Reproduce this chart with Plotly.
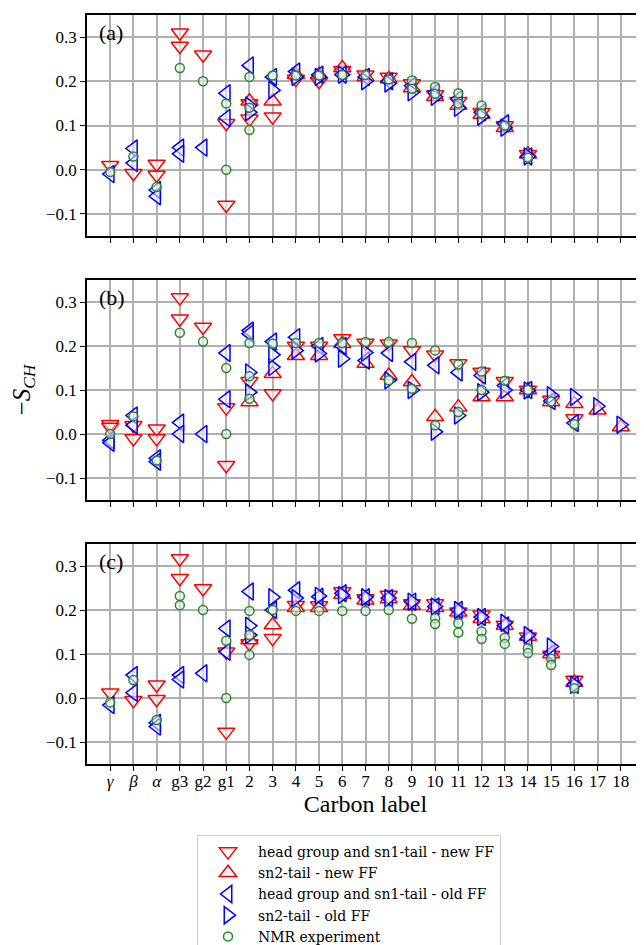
import plotly.graph_objects as go

# ---------------- data ----------------
CATS = ["γ", "β", "α", "g3", "g2", "g1"] + [str(i) for i in range(2, 19)]
TICK_TEXT = ["<i>γ</i>", "<i>β</i>", "<i>α</i>", "g3", "g2", "g1"] + [str(i) for i in range(2, 19)]
Y_TICKS = [-0.1, 0.0, 0.1, 0.2, 0.3]
Y_TICK_TEXT = ["−0.1", "0.0", "0.1", "0.2", "0.3"]

SERIES_NAMES = [
    "head group and sn1-tail - new FF",
    "sn2-tail - new FF",
    "head group and sn1-tail - old FF",
    "sn2-tail - old FF",
    "NMR experiment",
]

# Panel (a)
a_new_head_x = ["γ", "β", "α", "α", "g3", "g3", "g2", "g1", "g1", "2", "2", "3", "4", "5", "6", "7", "8", "9", "10", "11", "12", "13", "14"]
a_new_head_y = [0.01, -0.008, 0.013, -0.012, 0.31, 0.28, 0.26, 0.105, -0.08, 0.15, 0.115, 0.12, 0.205, 0.2, 0.225, 0.215, 0.21, 0.195, 0.17, 0.155, 0.13, 0.1, 0.035]
a_new_sn2_x = ["2", "3", "4", "5", "6", "7", "8", "9", "10", "11", "12", "13", "14"]
a_new_sn2_y = [0.155, 0.155, 0.215, 0.215, 0.23, 0.21, 0.205, 0.185, 0.165, 0.145, 0.125, 0.095, 0.035]
a_old_head_x = ["γ", "β", "β", "α", "α", "g3", "g3", "g2", "g1", "g1", "2", "3", "4", "5", "6", "7", "8", "9", "10", "11", "12", "13", "14"]
a_old_head_y = [-0.01, 0.048, 0.015, -0.046, -0.06, 0.05, 0.036, 0.05, 0.173, 0.117, 0.236, 0.21, 0.222, 0.215, 0.215, 0.21, 0.2, 0.19, 0.175, 0.16, 0.13, 0.105, 0.03]
a_old_sn2_x = ["2", "2", "3", "4", "5", "6", "7", "8", "9", "10", "11", "12", "13", "14"]
a_old_sn2_y = [0.145, 0.13, 0.18, 0.21, 0.21, 0.215, 0.2, 0.195, 0.175, 0.165, 0.14, 0.12, 0.095, 0.03]
a_nmr_x = ["γ", "β", "α", "g3", "g2", "g1", "g1", "2", "2", "2", "3", "4", "5", "6", "7", "8", "9", "9", "10", "10", "11", "11", "12", "12", "13", "14"]
a_nmr_y = [-0.005, 0.03, -0.039, 0.23, 0.2, 0.15, 0.0, 0.21, 0.14, 0.09, 0.213, 0.213, 0.213, 0.214, 0.214, 0.204, 0.202, 0.183, 0.187, 0.172, 0.173, 0.15, 0.145, 0.127, 0.1, 0.027]

# Panel (b)
b_new_head_x = ["γ", "γ", "β", "β", "α", "α", "g3", "g3", "g2", "g1", "g1", "2", "3", "4", "5", "6", "7", "8", "9", "10", "11", "12", "13", "14", "15", "16"]
b_new_head_y = [0.022, 0.016, -0.01, 0.02, 0.012, -0.01, 0.31, 0.262, 0.243, 0.06, -0.071, 0.12, 0.092, 0.2, 0.2, 0.217, 0.207, 0.205, 0.19, 0.18, 0.16, 0.141, 0.12, 0.1, 0.077, 0.035]
b_new_sn2_x = ["2", "3", "4", "5", "6", "7", "8", "9", "10", "11", "12", "13", "14", "15", "16", "17", "18"]
b_new_sn2_y = [0.073, 0.137, 0.178, 0.178, 0.205, 0.16, 0.133, 0.118, 0.039, 0.061, 0.084, 0.084, 0.1, 0.073, 0.069, 0.054, 0.016]
b_old_head_x = ["γ", "γ", "β", "β", "α", "α", "g3", "g3", "g2", "g1", "g1", "2", "2", "3", "4", "5", "6", "7", "8", "9", "10", "11", "12", "13", "14", "15", "16"]
b_old_head_y = [-0.014, -0.02, 0.042, 0.02, -0.055, -0.063, 0.026, 0.0, 0.0, 0.184, 0.079, 0.235, 0.228, 0.21, 0.22, 0.2, 0.2, 0.167, 0.184, 0.164, 0.156, 0.14, 0.133, 0.11, 0.1, 0.075, 0.025]
b_old_sn2_x = ["2", "2", "3", "3", "4", "5", "6", "7", "8", "9", "10", "11", "12", "13", "14", "15", "16", "17", "18"]
b_old_sn2_y = [0.14, 0.095, 0.152, 0.18, 0.19, 0.183, 0.171, 0.185, 0.122, 0.1, 0.005, 0.042, 0.095, 0.1, 0.099, 0.088, 0.084, 0.063, 0.021]
b_nmr_x = ["γ", "β", "α", "g3", "g2", "g1", "g1", "2", "2", "2", "3", "4", "5", "6", "7", "8", "8", "9", "9", "10", "10", "11", "11", "12", "12", "13", "14", "15", "16"]
b_nmr_y = [0.0, 0.04, -0.06, 0.23, 0.21, 0.15, 0.0, 0.207, 0.131, 0.08, 0.205, 0.207, 0.207, 0.207, 0.209, 0.209, 0.122, 0.207, 0.103, 0.19, 0.02, 0.158, 0.05, 0.142, 0.1, 0.121, 0.1, 0.074, 0.022]

# Panel (c)
c_new_head_x = ["γ", "β", "α", "α", "g3", "g3", "g2", "g1", "g1", "2", "3", "4", "5", "6", "7", "8", "9", "10", "11", "12", "13", "14", "15", "16"]
c_new_head_y = [0.012, -0.005, 0.03, -0.003, 0.317, 0.272, 0.249, 0.105, -0.077, 0.124, 0.136, 0.211, 0.21, 0.242, 0.226, 0.234, 0.215, 0.215, 0.196, 0.189, 0.166, 0.139, 0.098, 0.041]
c_new_sn2_x = ["2", "3", "4", "5", "6", "7", "8", "9", "10", "11", "12", "13", "14", "15", "16"]
c_new_sn2_y = [0.132, 0.166, 0.205, 0.205, 0.235, 0.222, 0.225, 0.21, 0.205, 0.195, 0.18, 0.165, 0.14, 0.1, 0.035]
c_old_head_x = ["γ", "β", "β", "α", "α", "g3", "g3", "g2", "g1", "g1", "2", "3", "4", "5", "6", "7", "8", "9", "10", "11", "12", "13", "14", "15", "16"]
c_old_head_y = [-0.016, 0.052, 0.012, -0.056, -0.065, 0.052, 0.042, 0.056, 0.158, 0.105, 0.242, 0.2, 0.245, 0.23, 0.238, 0.229, 0.227, 0.219, 0.208, 0.2, 0.184, 0.165, 0.135, 0.102, 0.03]
c_old_sn2_x = ["2", "2", "3", "4", "5", "6", "7", "8", "9", "10", "11", "12", "13", "14", "15", "16"]
c_old_sn2_y = [0.164, 0.143, 0.229, 0.227, 0.232, 0.234, 0.229, 0.227, 0.219, 0.208, 0.2, 0.184, 0.171, 0.143, 0.117, 0.03]
c_nmr_x = ["γ", "β", "α", "g3", "g3", "g2", "g1", "g1", "2", "2", "2", "3", "4", "5", "6", "7", "8", "9", "10", "10", "11", "11", "12", "12", "13", "13", "14", "14", "15", "15", "16"]
c_nmr_y = [-0.01, 0.041, -0.05, 0.232, 0.211, 0.2, 0.13, 0.0, 0.198, 0.143, 0.098, 0.2, 0.198, 0.198, 0.198, 0.198, 0.2, 0.18, 0.181, 0.168, 0.17, 0.149, 0.151, 0.134, 0.137, 0.123, 0.113, 0.102, 0.089, 0.075, 0.022]

PANELS = [
    ("(a)", [(a_new_head_x, a_new_head_y), (a_new_sn2_x, a_new_sn2_y), (a_old_head_x, a_old_head_y), (a_old_sn2_x, a_old_sn2_y), (a_nmr_x, a_nmr_y)]),
    ("(b)", [(b_new_head_x, b_new_head_y), (b_new_sn2_x, b_new_sn2_y), (b_old_head_x, b_old_head_y), (b_old_sn2_x, b_old_sn2_y), (b_nmr_x, b_nmr_y)]),
    ("(c)", [(c_new_head_x, c_new_head_y), (c_new_sn2_x, c_new_sn2_y), (c_old_head_x, c_old_head_y), (c_old_sn2_x, c_old_sn2_y), (c_nmr_x, c_nmr_y)]),
]

# ---------------- styles ----------------
FONT = "Liberation Serif"
LEGEND_FONT = "DejaVu Serif"
STYLES = [
    dict(symbol="triangle-down", size=15, line=dict(color="#ff0000", width=1.5)),
    dict(symbol="triangle-up", size=15, line=dict(color="#ff0000", width=1.5)),
    dict(symbol="triangle-left", size=15, line=dict(color="#0000ff", width=1.5)),
    dict(symbol="triangle-right", size=15, line=dict(color="#0000ff", width=1.5)),
    dict(symbol="circle", size=9, line=dict(color="#228b22", width=1.5)),
]
FILL = "rgba(245,245,250,0.55)"

# layout geometry: the page body adds an 8px offset, so the figure is 8px smaller
OFF = 8
W, H = 644 - OFF, 945 - OFF
ML, MR, MT = 87 - OFF, 0, 15 - OFF
PLOT_BOTTOM = 764 - OFF
MB = H - PLOT_BOTTOM
plot_h = H - MT - MB
# panel top/bottom in px measured from the top of the plotting region
PANEL_PX = [(0, 221), (265, 485), (529, 749)]
DOMAINS = [[(plot_h - b) / plot_h, (plot_h - t) / plot_h] for t, b in PANEL_PX]

fig = go.Figure()
for p, (label, series) in enumerate(PANELS):
    xa = "x" if p == 0 else f"x{p+1}"
    ya = "y" if p == 0 else f"y{p+1}"
    for s, (xs, ys) in enumerate(series):
        st = STYLES[s]
        fig.add_trace(go.Scatter(
            x=xs, y=ys, mode="markers", xaxis=xa, yaxis=ya,
            name=SERIES_NAMES[s], showlegend=(p == 0),
            marker=dict(symbol=st["symbol"], size=st["size"], color=FILL, line=st["line"]),
        ))
    fig.add_annotation(text=label, xref=f"{xa} domain", yref=f"{ya} domain",
                       x=0.018, y=0.985, xanchor="left", yanchor="top", showarrow=False,
                       font=dict(family=FONT, size=22, color="black"))

axis_common = dict(showline=True, mirror=True, linecolor="black", linewidth=1.5,
                   showgrid=True, gridcolor="#b0b0b0", gridwidth=1.6, zeroline=False,
                   ticks="outside", ticklen=5, tickwidth=1.3, tickcolor="black",
                   automargin=False)

LEG_TOP = 835 - OFF
LEG_LEFT = 197 - OFF
layout = dict(
    width=W, height=H, paper_bgcolor="white", plot_bgcolor="white",
    margin=dict(l=ML, r=MR, t=MT, b=MB, autoexpand=False),
    font=dict(family=FONT, size=16, color="black"),
    legend=dict(x=(LEG_LEFT - ML) / (W - ML - MR), y=-(LEG_TOP - PLOT_BOTTOM) / plot_h,
                xanchor="left", yanchor="top", itemwidth=50,
                bgcolor="white", bordercolor="#cccccc", borderwidth=1,
                font=dict(family=LEGEND_FONT, size=14, color="black")),
)
for p in range(3):
    xk = "xaxis" if p == 0 else f"xaxis{p+1}"
    yk = "yaxis" if p == 0 else f"yaxis{p+1}"
    ya = "y" if p == 0 else f"y{p+1}"
    layout[xk] = dict(axis_common, type="category", categoryorder="array", categoryarray=CATS,
                      tickvals=CATS, ticktext=TICK_TEXT, range=[-1, 23], anchor=ya,
                      showticklabels=(p == 2), tickfont=dict(family=FONT, size=17),
                      ticklabelstandoff=-4)
    layout[yk] = dict(axis_common, range=[-0.15, 0.35], domain=DOMAINS[p],
                      anchor="x" if p == 0 else f"x{p+1}",
                      tickvals=Y_TICKS, ticktext=Y_TICK_TEXT, tickfont=dict(family=FONT, size=17))
layout["xaxis3"]["title"] = dict(text="Carbon label", font=dict(family=FONT, size=24), standoff=0)
layout["yaxis2"]["title"] = dict(text="−<i>S</i><sub><i>CH</i></sub>", font=dict(family=FONT, size=25), standoff=12)

fig.update_layout(**layout)
fig.write_html("out.html")
